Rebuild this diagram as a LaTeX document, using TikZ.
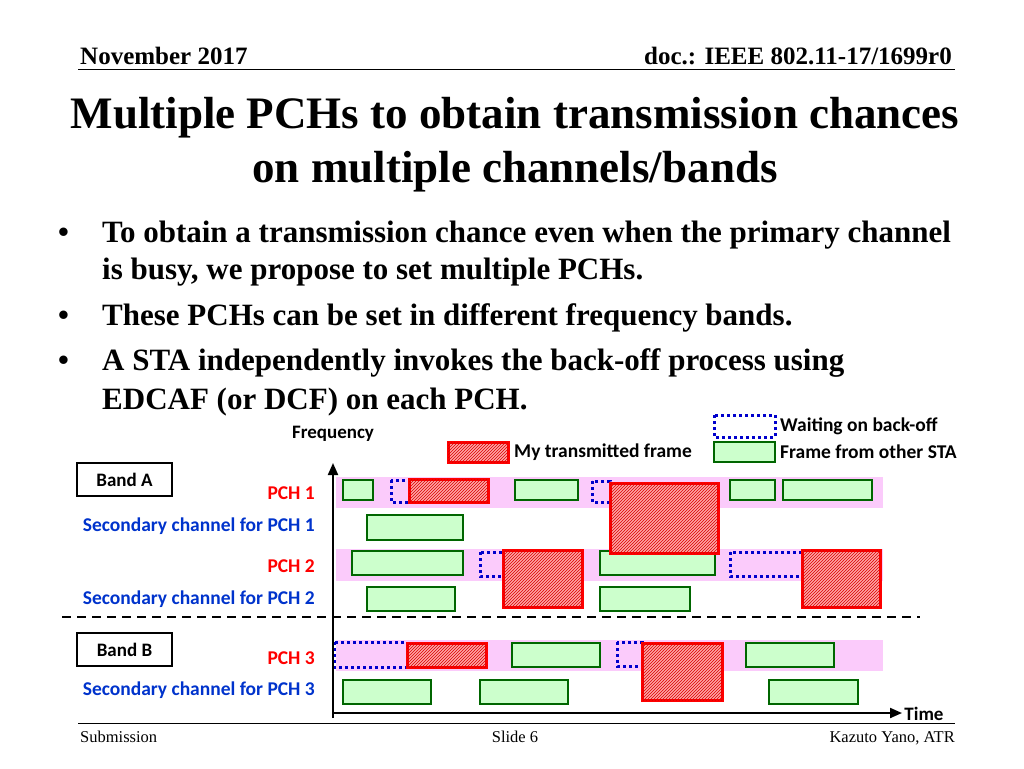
\documentclass[tikz,border=0pt]{standalone}
\usepackage{fontspec}
\setmainfont{Liberation Serif}
\newfontfamily\calibri{Carlito}
\usetikzlibrary{patterns,arrows.meta}
\definecolor{framegreen}{HTML}{CCFFCC}
\definecolor{bandpink}{HTML}{FBCBFB}
\definecolor{secblue}{HTML}{0033CC}

\begin{document}
\begin{tikzpicture}[x=1pt,y=-1pt,
  every node/.style={inner sep=0pt},
  other/.style={draw=green!40!black, fill=framegreen, line width=1.5pt},
  mine/.style={draw=red, line width=3pt, fill=red!35, postaction={pattern=north east lines, pattern color=red!85!black}},
  wait/.style={draw=blue!80!black, line width=3pt, dash pattern=on 3pt off 3pt},
  band/.style={fill=bandpink, draw=none},
  chlabel/.style={font=\calibri\bfseries\fontsize{19.5}{22}\selectfont, anchor=east},
  leglabel/.style={anchor=west, font=\calibri\bfseries\fontsize{19.5}{22}\selectfont},
  bandbox/.style={draw, line width=1.5pt, minimum width=95pt, minimum height=33pt, font=\calibri\bfseries\fontsize{19}{22}\selectfont},
  bullet/.style={anchor=base west, font=\bfseries\fontsize{31}{36}\selectfont}
  ]
  \useasboundingbox (0,0) rectangle (1024,768);

  % header and footer
  \node[anchor=base west, font=\bfseries\fontsize{25}{30}\selectfont] (date) at (80,64) {November 2017};
  \node[anchor=base east, font=\bfseries\fontsize{25}{30}\selectfont] (doc) at (952,64) {doc.: IEEE 802.11-17/1699r0};
  \draw[line width=1pt] (78,69) -- (955,69);
  \draw[line width=1pt] (78,723) -- (955,723);
  \node[anchor=base west, font=\fontsize{16.5}{20}\selectfont] (sub) at (80,742) {Submission};
  \node[anchor=base, font=\fontsize{16.5}{20}\selectfont] (slide) at (515,742) {Slide 6};
  \node[anchor=base east, font=\fontsize{16.5}{20}\selectfont] (auth) at (955,742) {Kazuto Yano, ATR};

  % title
  \node[align=center, font=\bfseries\fontsize{45}{54}\selectfont] (title) at (515,145)
    {Multiple PCHs to obtain transmission chances\\on multiple channels/bands};

  % bullets
  \foreach \y in {242,325,370}
    \node[bullet] at (58,\y) {\textbullet};
  \node[bullet] (b1) at (102,242) {To obtain a transmission chance even when the primary channel};
  \node[bullet] (b1b) at (102,279) {is busy, we propose to set multiple PCHs.};
  \node[bullet] (b2) at (102,325) {These PCHs can be set in different frequency bands.};
  \node[bullet] (b3) at (102,370) {A STA independently invokes the back-off process using};
  \node[bullet] (b3b) at (102,409) {EDCAF (or DCF) on each PCH.};

  % legend
  \draw[wait] (714,415) rectangle (775,437);
  \node[leglabel] (lw) at (780,426) {Waiting on back-off};
  \draw[other] (714,442) rectangle (775,462);
  \node[leglabel] (lo) at (780,452) {Frame from other STA};
  \draw[mine] (448,442) rectangle (508,462);
  \node[leglabel] (lm) at (514,452) {My transmitted frame};

  % channel bands
  \foreach \ya/\yb in {477/508, 549/581, 640/671}
    \fill[band] (336,\ya) rectangle (883,\yb);

  % labels
  \node[bandbox] (bandA) at (124.5,479.5) {Band A};
  \node[bandbox] (bandB) at (124.5,649.5) {Band B};
  \node[chlabel, text=red] (pch1) at (315,493) {PCH 1};
  \node[chlabel, text=secblue] (sec1) at (315,526) {Secondary channel for PCH 1};
  \node[chlabel, text=red] (pch2) at (315,566) {PCH 2};
  \node[chlabel, text=secblue] (sec2) at (315,599) {Secondary channel for PCH 2};
  \node[chlabel, text=red] (pch3) at (315,658) {PCH 3};
  \node[chlabel, text=secblue] (sec3) at (315,690) {Secondary channel for PCH 3};

  % frames from other STAs
  \foreach \xa/\ya/\xb/\yb in {343/480/373/500, 515/480/578/500, 730/480/775/500, 783/480/872/500,
      367/515/463/540,
      352/551/463/575, 600/551/715/575,
      367/587/455/611, 600/587/690/611,
      512/643/600/667, 746/643/834/667,
      343/680/431/704, 480/680/568/704, 769/680/858/704}
    \draw[other] (\xa,\ya) rectangle (\xb,\yb);

  % back-off
  \foreach \xa/\ya/\xb/\yb in {391/480/409/502, 592/481/610/502,
      480/552/503/576, 730/552/802/576,
      334/642/407/667, 617/642/642/666}
    \draw[wait] (\xa,\ya) rectangle (\xb,\yb);

  % my frames
  \foreach \xa/\ya/\xb/\yb in {409/479/488/502, 610/483/718/553,
      503/550/582/607, 802/550/880/607,
      407/643/486/667, 642/643/722/700}
    \draw[mine] (\xa,\ya) rectangle (\xb,\yb);

  % band separator
  \draw[line width=2pt, dash pattern=on 9pt off 6pt] (62,617) -- (920,617);

  % axes
  \coordinate (o) at (333,718);
  \coordinate (fend) at (333,463);
  \coordinate (tend) at (902,713);
  \draw[line width=2pt, -{Triangle[length=12pt,width=10pt]}] (o) -- (fend);
  \draw[line width=2pt, -{Triangle[length=12pt,width=10pt]}] (333,713) -- (tend);
  \node[font=\calibri\bfseries\fontsize{19}{22}\selectfont] (freq) at (333,434) {Frequency};
  \node[font=\calibri\bfseries\fontsize{19}{22}\selectfont] (time) at (924,714) {Time};
\end{tikzpicture}
\end{document}
